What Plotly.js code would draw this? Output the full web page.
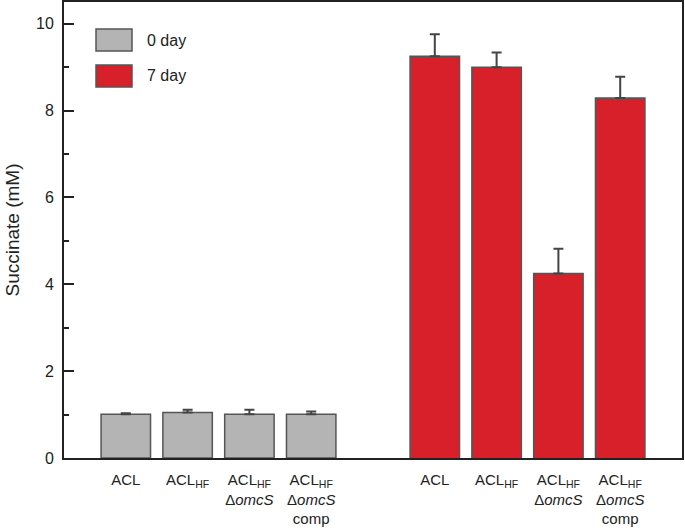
<!DOCTYPE html>
<html>
<head>
<meta charset="utf-8">
<script src="https://cdn.plot.ly/plotly-3.0.1.min.js"></script>
<style>
  html, body { margin: 0; padding: 0; background: #fff; }
  #chart { width: 685px; height: 528px; }
</style>
</head>
<body>
<div id="chart"></div>
<script>
// Strain labels (same for both groups)
const strains = [
  "ACL",
  "ACL<sub>HF</sub>",
  "ACL<sub>HF</sub><br>Δ<i>omcS</i>",
  "ACL<sub>HF</sub><br>Δ<i>omcS</i><br>comp"
];
// Succinate (mM)
const day0Values = [1.01, 1.05, 1.01, 1.01];
const day0Errors = [0.02, 0.06, 0.10, 0.06];
const day7Values = [9.25, 9.00, 4.25, 8.29];
const day7Errors = [0.51, 0.34, 0.57, 0.49];
const seriesNames = ["0 day", "7 day"];

const gap = 1; // empty slot between groups
const xDay0 = strains.map((_, i) => i);
const xDay7 = strains.map((_, i) => i + strains.length + gap);

const colors = ["#b4b4b4", "#d8202a"];
const font = "Liberation Sans, Arial, Helvetica, sans-serif";

function barTrace(x, y, err, color, name) {
  return {
    type: "bar",
    x: x, y: y, name: name,
    width: 0.8,
    marker: { color: color, line: { color: "#555555", width: 1.5 } },
    error_y: {
      type: "data", symmetric: false,
      array: err, arrayminus: err.map(() => 0),
      color: "#444444", thickness: 2, width: 5
    },
    showlegend: false,
    hoverinfo: "x+y"
  };
}

const data = [
  barTrace(xDay0, day0Values, day0Errors, colors[0], seriesNames[0]),
  barTrace(xDay7, day7Values, day7Errors, colors[1], seriesNames[1])
];

const W = 618, H = 456;
function px(x) { return x / W; }
function py(y) { return 1 - y / H; }

const layout = {
  width: 685, height: 528,
  margin: { l: 64, r: 3, t: 2, b: 70 },
  paper_bgcolor: "#ffffff",
  plot_bgcolor: "#ffffff",
  font: { family: font, size: 15, color: "#222222" },
  bargap: 0.2,
  xaxis: {
    range: [-1, 9],
    tickvals: xDay0.concat(xDay7),
    ticktext: strains.concat(strains),
    ticks: "",
    showgrid: false, zeroline: false,
    showline: true, mirror: true, linecolor: "#222222", linewidth: 2,
    tickfont: { family: font, size: 15, color: "#222222" },
    ticklabelstandoff: 7,
    fixedrange: true
  },
  yaxis: {
    range: [0, 10.5],
    dtick: 2, tick0: 0,
    ticks: "inside", ticklen: 10, tickwidth: 2, tickcolor: "#222222",
    minor: { dtick: 1, ticks: "inside", ticklen: 5, tickwidth: 2, tickcolor: "#222222", showgrid: false },
    showgrid: false, zeroline: false,
    showline: true, mirror: true, linecolor: "#222222", linewidth: 2,
    tickfont: { family: font, size: 16, color: "#222222" },
    ticklabelstandoff: 5,
    title: { text: "Succinate (mM)", font: { family: font, size: 19, color: "#222222" }, standoff: 11 },
    fixedrange: true
  },
  shapes: [
    { type: "rect", xref: "paper", yref: "paper",
      x0: px(32), x1: px(68), y0: py(51 - 2), y1: py(29 - 2),
      fillcolor: colors[0], line: { color: "#555555", width: 1.5 } },
    { type: "rect", xref: "paper", yref: "paper",
      x0: px(32), x1: px(68), y0: py(87 - 2), y1: py(65 - 2),
      fillcolor: colors[1], line: { color: "#555555", width: 1.5 } }
  ],
  annotations: [
    { xref: "paper", yref: "paper", x: px(81), y: py(40 - 2), xanchor: "left", yanchor: "middle",
      text: seriesNames[0], showarrow: false, font: { family: font, size: 16, color: "#222222" } },
    { xref: "paper", yref: "paper", x: px(81), y: py(76 - 2), xanchor: "left", yanchor: "middle",
      text: seriesNames[1], showarrow: false, font: { family: font, size: 16, color: "#222222" } }
  ]
};

Plotly.newPlot("chart", data, layout, { displayModeBar: false, staticPlot: true });
</script>
</body>
</html>
